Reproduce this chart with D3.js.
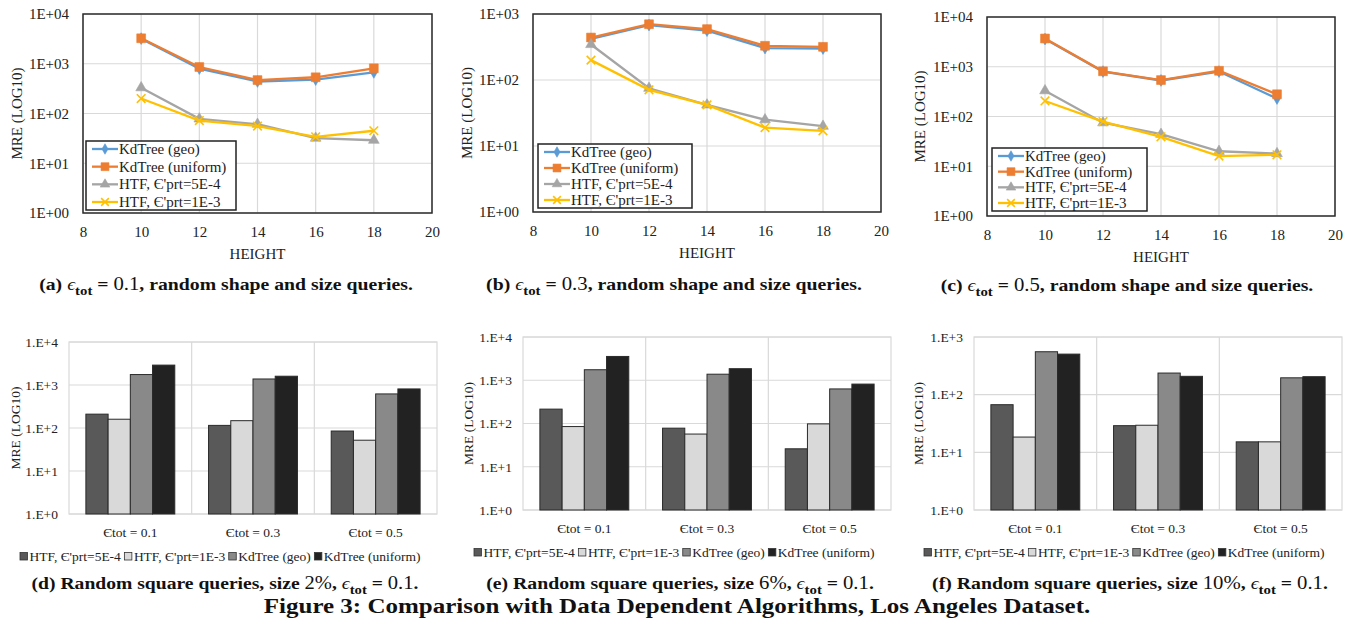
<!DOCTYPE html>
<meta charset="utf-8">
<style>
body { margin: 0; background: #fff; }
text { font-family: "Liberation Serif", "Times New Roman", serif; fill: #222; }
.cap { font-weight: bold; fill: #111; }
</style>
<body>
<script src="https://d3js.org/d3.v7.min.js"></script>
<script>
// ---- line charts (a)-(c): MRE vs tree height ----
var heights = [10, 12, 14, 16, 18];
var heightTicks = [8, 10, 12, 14, 16, 18, 20];
var lineNames = ["KdTree (geo)", "KdTree (uniform)", "HTF, \u0404'prt=5E-4", "HTF, \u0404'prt=1E-3"];
var lineColors = ["#5B9BD5", "#ED7D31", "#A5A5A5", "#FFC000"];

var aGeo  = [3200, 800, 440, 480, 670];
var aUni  = [3250, 860, 470, 535, 810];
var aHtf5 = [330, 78, 61, 32, 29];
var aHtf1 = [200, 72, 56, 34, 45];

var bGeo  = [420, 680, 560, 305, 300];
var bUni  = [440, 700, 590, 330, 318];
var bHtf5 = [345, 75, 42, 25, 20];
var bHtf1 = [200, 71, 42, 19, 17];

var cGeo  = [3600, 800, 530, 800, 230];
var cUni  = [3700, 810, 540, 830, 280];
var cHtf5 = [330, 75, 44, 20, 18];
var cHtf1 = [205, 79, 39, 16, 17];

// ---- bar charts (d)-(f): random square queries ----
var barCats = ["\u0404tot = 0.1", "\u0404tot = 0.3", "\u0404tot = 0.5"];
var barNames = ["HTF, \u0404'prt=5E-4", "HTF, \u0404'prt=1E-3", "KdTree (geo)", "KdTree (uniform)"];
var barColors = ["#595959", "#D9D9D9", "#898989", "#222222"];

var dHtf5 = [210, 115, 85];
var dHtf1 = [160, 148, 52];
var dGeo  = [1750, 1380, 620];
var dUni  = [2900, 1600, 810];

var eHtf5 = [215, 78, 26];
var eHtf1 = [85, 57, 98];
var eGeo  = [1750, 1380, 630];
var eUni  = [3550, 1850, 815];

var fHtf5 = [67, 29, 15.2];
var fHtf1 = [18.4, 29.5, 15.2];
var fGeo  = [555, 237, 196];
var fUni  = [505, 208, 205];

var svg = d3.select("body").append("svg")
    .attr("width", 1354)
    .attr("height", 628);

var symbols = [d3.symbolDiamond, d3.symbolSquare, d3.symbolTriangle, d3.symbolTimes];
var symSizes = [40, 78, 50, 50];

function marker(sel, i, scale) {
  sel.append("path")
      .attr("d", d3.symbol().type(symbols[i]).size(symSizes[i] * (scale || 1)))
      .attr("fill", i === 3 ? "none" : lineColors[i])
      .attr("stroke", lineColors[i])
      .attr("stroke-width", i === 3 ? 1.6 : 0.6);
}

function decades(ymax) {
  return d3.range(0, Math.round(Math.log10(ymax)) + 1).map(function(e) { return Math.pow(10, e); });
}

function lineChart(o) {
  var x = d3.scaleLinear().domain([8, 20]).range([o.x0, o.x1]);
  var y = d3.scaleLog().domain([1, o.ymax]).range([o.y1, o.y0]);
  var yt = decades(o.ymax);
  var g = svg.append("g");

  g.selectAll(".hg").data(yt).enter().append("line")
      .attr("x1", o.x0).attr("x2", o.x1)
      .attr("y1", function(d) { return y(d); }).attr("y2", function(d) { return y(d); })
      .attr("stroke", "#D9D9D9").attr("stroke-width", 1.2);
  g.selectAll(".vg").data(heightTicks).enter().append("line")
      .attr("x1", function(d) { return x(d); }).attr("x2", function(d) { return x(d); })
      .attr("y1", o.y0).attr("y2", o.y1)
      .attr("stroke", "#D9D9D9").attr("stroke-width", 1.2);

  var ya = g.append("g").attr("transform", "translate(" + o.x0 + ",0)")
      .call(d3.axisLeft(y).tickValues(yt).tickSize(0).tickPadding(14)
        .tickFormat(function(v) { return "1E+" + d3.format("02")(Math.round(Math.log10(v))); }));
  var xa = g.append("g").attr("transform", "translate(0," + o.y1 + ")")
      .call(d3.axisBottom(x).tickValues(heightTicks).tickSize(0).tickPadding(13));
  [ya, xa].forEach(function(a) {
    a.select(".domain").remove();
    a.attr("font-family", null).attr("font-size", 15);
    a.selectAll("text").attr("fill", "#222");
  });

  g.append("rect")
      .attr("x", o.x0).attr("y", o.y0)
      .attr("width", o.x1 - o.x0).attr("height", o.y1 - o.y0)
      .attr("fill", "none").attr("stroke", "#2b2b2b").attr("stroke-width", 1.5);

  var line = d3.line()
      .x(function(d, i) { return x(heights[i]); })
      .y(function(d) { return y(d); });

  o.series.forEach(function(s, si) {
    g.append("path").datum(s)
        .attr("d", line)
        .attr("fill", "none")
        .attr("stroke", lineColors[si])
        .attr("stroke-width", 2.3);
    s.forEach(function(v, i) {
      var m = g.append("g").attr("transform", "translate(" + x(heights[i]) + "," + y(v) + ")");
      marker(m, si);
    });
  });

  // legend
  var L = o.legend;
  g.append("rect").attr("x", L.x).attr("y", L.y).attr("width", L.w).attr("height", L.h)
      .attr("fill", "#fff").attr("stroke", "#222").attr("stroke-width", 1.5);
  lineNames.forEach(function(n, i) {
    var cy = L.y + 8 + i * (L.h - 16) / 3;
    g.append("line").attr("x1", L.x + 6).attr("x2", L.x + 32)
        .attr("y1", cy).attr("y2", cy)
        .attr("stroke", lineColors[i]).attr("stroke-width", 2.3);
    marker(g.append("g").attr("transform", "translate(" + (L.x + 19) + "," + cy + ")"), i, 0.8);
    g.append("text").attr("x", L.x + 33).attr("y", cy + 5)
        .attr("font-size", 15).text(n);
  });

  g.append("text")
      .attr("x", (o.x0 + o.x1) / 2).attr("y", o.y1 + 46)
      .attr("text-anchor", "middle").attr("font-size", 15)
      .text("HEIGHT");
  g.append("text")
      .attr("transform", "translate(" + (o.ylabX + 5) + "," + (o.y0 + o.y1) / 2 + ") rotate(-90)")
      .attr("text-anchor", "middle").attr("font-size", 15)
      .text("MRE (LOG10)");
}

function barChart(o) {
  var x0 = d3.scaleBand().domain(barCats).range([o.x0, o.x1]);
  var x1 = d3.scaleBand().domain(d3.range(4)).range([0, x0.bandwidth()]).paddingOuter(0.76);
  var y = d3.scaleLog().domain([1, o.ymax]).range([o.y1, o.y0]);
  var yt = decades(o.ymax);
  var g = svg.append("g");

  g.selectAll(".hg").data(yt).enter().append("line")
      .attr("x1", o.x0).attr("x2", o.x1)
      .attr("y1", function(d) { return y(d); }).attr("y2", function(d) { return y(d); })
      .attr("stroke", "#D9D9D9").attr("stroke-width", 1.2);
  g.selectAll(".vg").data(barCats.slice(1)).enter().append("line")
      .attr("x1", function(d) { return x0(d); }).attr("x2", function(d) { return x0(d); })
      .attr("y1", o.y0).attr("y2", o.y1)
      .attr("stroke", "#D9D9D9").attr("stroke-width", 1.2);
  g.append("rect")
      .attr("x", o.x0).attr("y", o.y0)
      .attr("width", o.x1 - o.x0).attr("height", o.y1 - o.y0)
      .attr("fill", "none").attr("stroke", "#D9D9D9").attr("stroke-width", 1.2);

  var ya = g.append("g").attr("transform", "translate(" + o.x0 + ",0)")
      .call(d3.axisLeft(y).tickValues(yt).tickSize(0).tickPadding(11)
        .tickFormat(function(v) { return "1.E+" + Math.round(Math.log10(v)); }));
  var xa = g.append("g").attr("transform", "translate(0," + o.y1 + ")")
      .call(d3.axisBottom(x0).tickSize(0).tickPadding(13));
  [ya, xa].forEach(function(a) {
    a.select(".domain").remove();
    a.attr("font-family", null).attr("font-size", 13.5);
    a.selectAll("text").attr("fill", "#222");
  });

  barCats.forEach(function(c, ci) {
    o.series.forEach(function(s, si) {
      g.append("rect")
          .attr("x", x0(c) + x1(si))
          .attr("y", y(s[ci]))
          .attr("width", x1.bandwidth())
          .attr("height", y(1) - y(s[ci]))
          .attr("fill", barColors[si])
          .attr("stroke", "#2a2a2a").attr("stroke-width", 1);
    });
  });

  g.append("text")
      .attr("transform", "translate(" + (o.ylabX + 5) + "," + (o.y0 + o.y1) / 2 + ") rotate(-90)")
      .attr("text-anchor", "middle").attr("font-size", 13.5)
      .text("MRE (LOG10)");

  // legend row
  var lx = o.legX, ly = o.y1 + 47;
  barNames.forEach(function(n, i) {
    g.append("rect").attr("x", lx).attr("y", ly - 8.5).attr("width", 7.5).attr("height", 7.5)
        .attr("fill", barColors[i]).attr("stroke", "#333").attr("stroke-width", 0.8);
    var t = g.append("text").attr("x", lx + 9.5).attr("y", ly).attr("font-size", 13.5).text(n);
    lx += 9.5 + t.node().getComputedTextLength() + 3.5;
  });
}

function caption(cx, by, tw, fs, parts) {
  var t = svg.append("text").attr("class", "cap").attr("text-anchor", "middle").attr("font-size", fs);
  var shift = 0;
  parts.forEach(function(p) {
    var s = t.append("tspan").text(p[0]);
    var want = p[1] === "s" ? fs * 0.28 : 0;
    if (want !== shift) { s.attr("dy", want - shift); shift = want; }
    if (p[1] === "s") s.attr("font-size", fs * 0.75);
    if (p[1] === "m") s.attr("font-weight", "normal").attr("font-size", fs * 1.05);
    if (p[1] === "e") s.attr("font-weight", "normal").attr("font-style", "italic");
  });
  var w = t.node().getBBox().width;
  t.attr("transform", "translate(" + cx + "," + by + ") scale(" + (tw / w) + ",1)");
}

lineChart({x0: 83, x1: 432, y0: 14, y1: 213, ymax: 1e4, ylabX: 17,
  series: [aGeo, aUni, aHtf5, aHtf1], legend: {x: 86, y: 141, w: 150, h: 69}});
lineChart({x0: 533, x1: 881, y0: 14, y1: 212, ymax: 1e3, ylabX: 467,
  series: [bGeo, bUni, bHtf5, bHtf1], legend: {x: 538, y: 144, w: 154, h: 64}});
lineChart({x0: 987, x1: 1335, y0: 17, y1: 216, ymax: 1e4, ylabX: 920,
  series: [cGeo, cUni, cHtf5, cHtf1], legend: {x: 992, y: 148, w: 155, h: 63}});

barChart({x0: 69, x1: 437, y0: 342, y1: 514, ymax: 1e4, ylabX: 15, legX: 20,
  series: [dHtf5, dHtf1, dGeo, dUni]});
barChart({x0: 523, x1: 891, y0: 337, y1: 510, ymax: 1e4, ylabX: 468, legX: 474,
  series: [eHtf5, eHtf1, eGeo, eUni]});
barChart({x0: 974, x1: 1342, y0: 337, y1: 510, ymax: 1e3, ylabX: 918, legX: 924,
  series: [fHtf5, fHtf1, fGeo, fUni]});

var eps = "\u03F5";
caption(226, 290, 374, 17, [["(a) ", "b"], [eps, "e"], ["tot", "s"], [" = ", "b"], ["0.1", "m"], [", random shape and size queries.", "b"]]);
caption(674, 290, 376, 17, [["(b) ", "b"], [eps, "e"], ["tot", "s"], [" = ", "b"], ["0.3", "m"], [", random shape and size queries.", "b"]]);
caption(1127, 291, 373, 17, [["(c) ", "b"], [eps, "e"], ["tot", "s"], [" = ", "b"], ["0.5", "m"], [", random shape and size queries.", "b"]]);
caption(225, 589, 387, 17, [["(d) Random square queries, size ", "b"], ["2%", "m"], [", ", "b"], [eps, "e"], ["tot", "s"], [" = ", "b"], ["0.1", "m"], [".", "b"]]);
caption(680, 589, 388, 17, [["(e) Random square queries, size ", "b"], ["6%", "m"], [", ", "b"], [eps, "e"], ["tot", "s"], [" = ", "b"], ["0.1", "m"], [".", "b"]]);
caption(1130, 589, 396, 17, [["(f) Random square queries, size ", "b"], ["10%", "m"], [", ", "b"], [eps, "e"], ["tot", "s"], [" = ", "b"], ["0.1", "m"], [".", "b"]]);
caption(677, 613, 827, 21, [["Figure 3: Comparison with Data Dependent Algorithms, Los Angeles Dataset.", "b"]]);
</script>
